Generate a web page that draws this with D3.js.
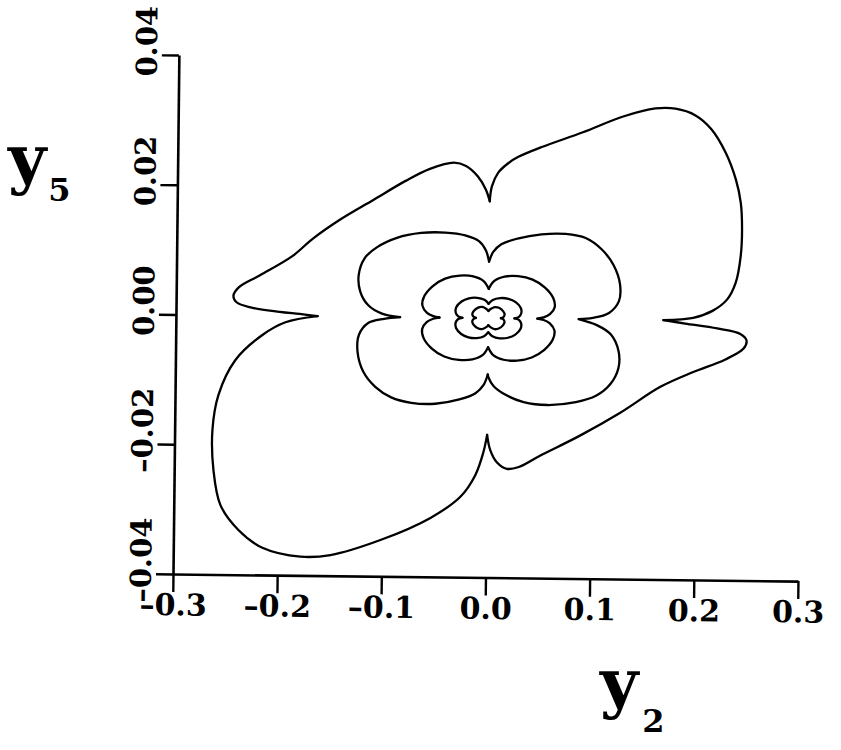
<!DOCTYPE html>
<html>
<head>
<meta charset="utf-8">
<script src="https://cdn.jsdelivr.net/npm/d3@7"></script>
<style>
  body { margin: 0; background: #fff; }
  svg { display: block; }
</style>
</head>
<body>
<svg id="chart" width="841" height="750"></svg>
<script>
// Axis tick values
const xTicks = [-0.3, -0.2, -0.1, 0.0, 0.1, 0.2, 0.3];
const yTicks = [-0.04, -0.02, 0.00, 0.02, 0.04];

// Orbit A (outermost): four lobes, each running between a cusp on y2 = 0 and one on y5 = 0
const ringA_upperRight = [[0,0.0180],[0.0019,0.0203],[0.0077,0.0224],[0.0173,0.0239],[0.0270,0.0249],[0.0501,0.0265],[0.0887,0.0288],[0.1272,0.0313],[0.1581,0.0326],[0.1773,0.0326],[0.1966,0.0316],[0.2120,0.0295],[0.2260,0.0259],[0.2360,0.0218],[0.2410,0.0182],[0.2425,0.0141],[0.2415,0.0100],[0.2370,0.0059],[0.2290,0.0033],[0.2150,0.0015],[0.1966,0.0004],[0.1680,0]];
const ringA_lowerRight = [[0.1680,0],[0.1889,-0.0005],[0.2197,-0.0012],[0.2420,-0.0020],[0.2480,-0.0030],[0.2450,-0.0043],[0.2274,-0.0060],[0.1966,-0.0080],[0.1658,-0.0103],[0.1272,-0.0144],[0.0887,-0.0180],[0.0501,-0.0212],[0.0308,-0.0229],[0.0193,-0.0232],[0.0096,-0.0222],[0.0031,-0.0203],[0,-0.0180]];
const ringA_lowerLeft = [[0,-0.0180],[-0.0034,-0.0207],[-0.0108,-0.0242],[-0.0250,-0.0276],[-0.0535,-0.0309],[-0.1013,-0.0344],[-0.1491,-0.0368],[-0.1779,-0.0371],[-0.2145,-0.0358],[-0.2377,-0.0331],[-0.2552,-0.0293],[-0.2623,-0.0239],[-0.2637,-0.0177],[-0.2583,-0.0123],[-0.2424,-0.0069],[-0.2168,-0.0030],[-0.1948,-0.0010],[-0.1640,0]];
const ringA_upperLeft = [[-0.1640,0],[-0.1812,0.0003],[-0.2005,0.0006],[-0.2274,0.0012],[-0.2420,0.0020],[-0.2450,0.0030],[-0.2400,0.0043],[-0.2197,0.0062],[-0.1889,0.0092],[-0.1696,0.0119],[-0.1426,0.0150],[-0.1118,0.0180],[-0.0810,0.0210],[-0.0578,0.0229],[-0.0347,0.0239],[-0.0231,0.0234],[-0.0116,0.0218],[-0.0039,0.0198],[0,0.0180]];

// Orbit B
const ringB_upperRight = [[0,0.0087],[0.0039,0.0102],[0.0116,0.0114],[0.0270,0.0123],[0.0501,0.0130],[0.0732,0.0131],[0.0925,0.0125],[0.1079,0.0108],[0.1195,0.0084],[0.1260,0.0054],[0.1250,0.0028],[0.1157,0.0010],[0.1002,0.0002],[0.0867,0]];
const ringB_lowerRight = [[0.0867,0],[0.1041,-0.0009],[0.1176,-0.0023],[0.1253,-0.0049],[0.1253,-0.0075],[0.1176,-0.0100],[0.1041,-0.0118],[0.0848,-0.0128],[0.0578,-0.0133],[0.0347,-0.0129],[0.0173,-0.0118],[0.0058,-0.0105],[0.0008,-0.0092],[0,-0.0087]];
const ringB_lowerLeft = [[0,-0.0087],[-0.0039,-0.0103],[-0.0116,-0.0116],[-0.0270,-0.0126],[-0.0501,-0.0133],[-0.0732,-0.0132],[-0.0925,-0.0124],[-0.1079,-0.0108],[-0.1195,-0.0085],[-0.1253,-0.0054],[-0.1241,-0.0028],[-0.1157,-0.0010],[-0.1002,-0.0003],[-0.0848,0]];
const ringB_upperLeft = [[-0.0848,0],[-0.1022,0.0005],[-0.1157,0.0018],[-0.1234,0.0039],[-0.1250,0.0064],[-0.1195,0.0090],[-0.1079,0.0107],[-0.0887,0.0122],[-0.0655,0.0130],[-0.0424,0.0131],[-0.0231,0.0127],[-0.0096,0.0118],[-0.0031,0.0104],[0,0.0087]];

// Orbit C
const ringC_upperRight = [[0,0.0045],[0.005,0.0057],[0.015,0.0064],[0.028,0.0065],[0.042,0.0060],[0.054,0.0048],[0.062,0.0032],[0.0635,0.0018],[0.059,0.0007],[0.053,0.0002],[0.047,0]];
const ringC_lowerRight = [[0.047,0],[0.053,-0.0002],[0.059,-0.0007],[0.0635,-0.0018],[0.062,-0.0032],[0.054,-0.0048],[0.042,-0.0060],[0.028,-0.0065],[0.015,-0.0064],[0.005,-0.0057],[0,-0.0045]];
const ringC_lowerLeft = [[0,-0.0045],[-0.005,-0.0057],[-0.015,-0.0064],[-0.028,-0.0065],[-0.042,-0.0060],[-0.054,-0.0048],[-0.062,-0.0032],[-0.0635,-0.0018],[-0.059,-0.0007],[-0.053,-0.0002],[-0.047,0]];
const ringC_upperLeft = [[-0.047,0],[-0.053,0.0002],[-0.059,0.0007],[-0.0635,0.0018],[-0.062,0.0032],[-0.054,0.0048],[-0.042,0.0060],[-0.028,0.0065],[-0.015,0.0064],[-0.005,0.0057],[0,0.0045]];

// Orbit D
const ringD_upperRight = [[0,0.0022],[0.004,0.0028],[0.011,0.0031],[0.019,0.0030],[0.026,0.0025],[0.031,0.0016],[0.0315,0.0008],[0.029,0.0002],[0.025,0]];
const ringD_lowerRight = [[0.025,0],[0.029,-0.0002],[0.0315,-0.0008],[0.031,-0.0016],[0.026,-0.0025],[0.019,-0.0030],[0.011,-0.0031],[0.004,-0.0028],[0,-0.0022]];
const ringD_lowerLeft = [[0,-0.0022],[-0.004,-0.0028],[-0.011,-0.0031],[-0.019,-0.0030],[-0.026,-0.0025],[-0.031,-0.0016],[-0.0315,-0.0008],[-0.029,-0.0002],[-0.025,0]];
const ringD_upperLeft = [[-0.025,0],[-0.029,0.0002],[-0.0315,0.0008],[-0.031,0.0016],[-0.026,0.0025],[-0.019,0.0030],[-0.011,0.0031],[-0.004,0.0028],[0,0.0022]];

// Orbit E (innermost)
const ringE_upperRight = [[0,0.0011],[0.002,0.0014],[0.006,0.0017],[0.010,0.0016],[0.014,0.0011],[0.0155,0.0006],[0.0145,0.0002],[0.012,0]];
const ringE_lowerRight = [[0.012,0],[0.0145,-0.0002],[0.0155,-0.0006],[0.014,-0.0011],[0.010,-0.0016],[0.006,-0.0017],[0.002,-0.0014],[0,-0.0011]];
const ringE_lowerLeft = [[0,-0.0011],[-0.002,-0.0014],[-0.006,-0.0017],[-0.010,-0.0016],[-0.014,-0.0011],[-0.0155,-0.0006],[-0.0145,-0.0002],[-0.012,0]];
const ringE_upperLeft = [[-0.012,0],[-0.0145,0.0002],[-0.0155,0.0006],[-0.014,0.0011],[-0.010,0.0016],[-0.006,0.0017],[-0.002,0.0014],[0,0.0011]];

const lobes = [
  ringA_upperRight, ringA_lowerRight, ringA_lowerLeft, ringA_upperLeft,
  ringB_upperRight, ringB_lowerRight, ringB_lowerLeft, ringB_upperLeft,
  ringC_upperRight, ringC_lowerRight, ringC_lowerLeft, ringC_upperLeft,
  ringD_upperRight, ringD_lowerRight, ringD_lowerLeft, ringD_upperLeft,
  ringE_upperRight, ringE_lowerRight, ringE_lowerLeft, ringE_upperLeft
];

const svg = d3.select("#chart");
const plotW = 625, plotH = 519;
const plotLeft = 173, plotTop = 55;

const x = d3.scaleLinear().domain([-0.3, 0.3]).range([0, plotW]);
const y = d3.scaleLinear().domain([-0.04, 0.04]).range([plotH, 0]);

// whole plot sits slightly tilted, pivoting on the axes' corner
const g = svg.append("g")
  .attr("transform", `rotate(0.65 ${plotLeft} ${plotTop + plotH}) translate(${plotLeft} ${plotTop})`);

const line = d3.line()
  .x(d => x(d[0]))
  .y(d => y(d[1]))
  .curve(d3.curveCatmullRom.alpha(0.5));

g.selectAll("path.lobe")
  .data(lobes)
  .join("path")
  .attr("class", "lobe")
  .attr("d", line)
  .attr("fill", "none")
  .attr("stroke", "#000")
  .attr("stroke-width", 2.3)
  .attr("stroke-linejoin", "round")
  .attr("stroke-linecap", "round");

const labelFont = "'DejaVu Serif', serif";
// tick labels use a short dash for the sign
const dashFormat = spec => v => d3.format(spec)(v).replace("\u2212", "\u2013");

// x axis
const gx = g.append("g")
  .attr("transform", `translate(0,${plotH})`)
  .call(d3.axisBottom(x).tickValues(xTicks).tickSize(18).tickSizeOuter(0)
        .tickFormat(dashFormat(".1f")));
gx.select(".domain").attr("stroke-width", 2.6);
gx.selectAll(".tick line").attr("stroke-width", 2.4);
gx.selectAll(".tick text")
  .attr("y", 20)
  .attr("font-family", labelFont)
  .attr("font-weight", "bold")
  .attr("font-size", 30)
  .attr("fill", "#000");

// y axis
const gy = g.append("g")
  .call(d3.axisLeft(y).tickValues(yTicks).tickSize(17).tickSizeOuter(0)
        .tickFormat(dashFormat(".2f")));
gy.select(".domain").attr("stroke-width", 2.6);
gy.selectAll(".tick line").attr("stroke-width", 2.4);
gy.selectAll(".tick text")
  .attr("x", null).attr("dy", null)
  .attr("text-anchor", "middle")
  .attr("transform", "translate(-22,-14) rotate(-90)")
  .attr("font-family", labelFont)
  .attr("font-weight", "bold")
  .attr("font-size", 29)
  .attr("fill", "#000");

// axis titles: y with a subscript index
function axisTitle(xPos, yPos, sub, subDx, subDy) {
  const t = svg.append("text")
    .attr("x", xPos).attr("y", yPos)
    .attr("font-family", labelFont).attr("font-weight", "bold")
    .attr("fill", "#000");
  t.append("tspan").attr("font-size", 66).text("y");
  t.append("tspan").attr("font-size", 32).attr("dx", subDx).attr("dy", subDy).text(sub);
}
axisTitle(8, 181, "5", 2, 20);
axisTitle(600, 705, "2", 4, 27);
</script>
</body>
</html>
